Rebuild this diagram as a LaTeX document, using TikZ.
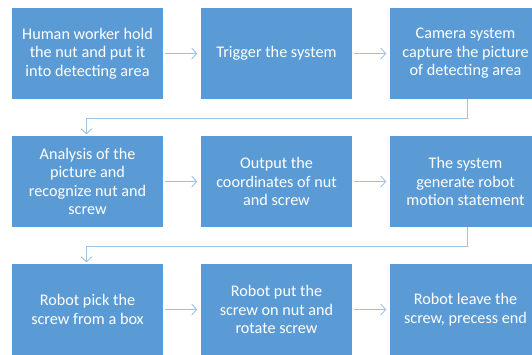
\documentclass[tikz,border=0pt]{standalone}
\usepackage{fontspec}
\setmainfont{Carlito}
\usetikzlibrary{arrows.meta}
\definecolor{boxblue}{HTML}{5B9BD5}
\definecolor{linkblue}{HTML}{9DC3E6}
\tikzset{
  stepbox/.style={fill=boxblue, draw=none, minimum width=151pt, minimum height=91pt,
    text=white, align=center, font=\fontsize{16.2pt}{18.4pt}\selectfont, inner sep=0pt},
  link/.style={draw=linkblue, line width=0.9pt,
    -{Straight Barb[length=5pt,width=11pt,line width=0.9pt]}},
  flow/.style={link, shorten <=2pt, shorten >=3.5pt},
  wrap/.style={link, shorten >=1.5pt}
}
\begin{document}
\begin{tikzpicture}[x=1pt,y=-1pt]
  \useasboundingbox (0,0) rectangle (532,354);
  \clip (0,0) rectangle (532,354);
  % first row
  \node[stepbox] (s1) at (87.5,53.5) {Human worker hold\\the nut and put it\\into detecting area};
  \node[stepbox] (s2) at (276.5,53.5) {Trigger the system};
  \node[stepbox] (s3) at (465.5,53.5) {Camera system\\capture the picture\\of detecting area};
  % second row
  \node[stepbox] (s4) at (87.5,181.5) {Analysis of the\\picture and\\recognize nut and\\screw};
  \node[stepbox] (s5) at (276.5,181.5) {Output the\\coordinates of nut\\and screw};
  \node[stepbox] (s6) at (465.5,181.5) {The system\\generate robot\\motion statement};
  % third row
  \node[stepbox] (s7) at (87.5,309.5) {Robot pick the\\screw from a box};
  \node[stepbox] (s8) at (276.5,309.5) {Robot put the\\screw on nut and\\rotate screw};
  \node[stepbox] (s9) at (465.5,309.5) {Robot leave the\\screw, precess end};
  % arrows along each row
  \draw[flow] (s1) -- (s2);
  \draw[flow] (s2) -- (s3);
  \draw[flow] (s4) -- (s5);
  \draw[flow] (s5) -- (s6);
  \draw[flow] (s7) -- (s8);
  \draw[flow] (s8) -- (s9);
  % wrap-around arrows to the next row
  \draw[wrap] ([xshift=1.5pt]s3.south) -- ++(0,19) -| ([xshift=-1pt]s4.north);
  \draw[wrap] ([xshift=1.5pt]s6.south) -- ++(0,19) -| ([xshift=-1pt]s7.north);
\end{tikzpicture}
\end{document}
